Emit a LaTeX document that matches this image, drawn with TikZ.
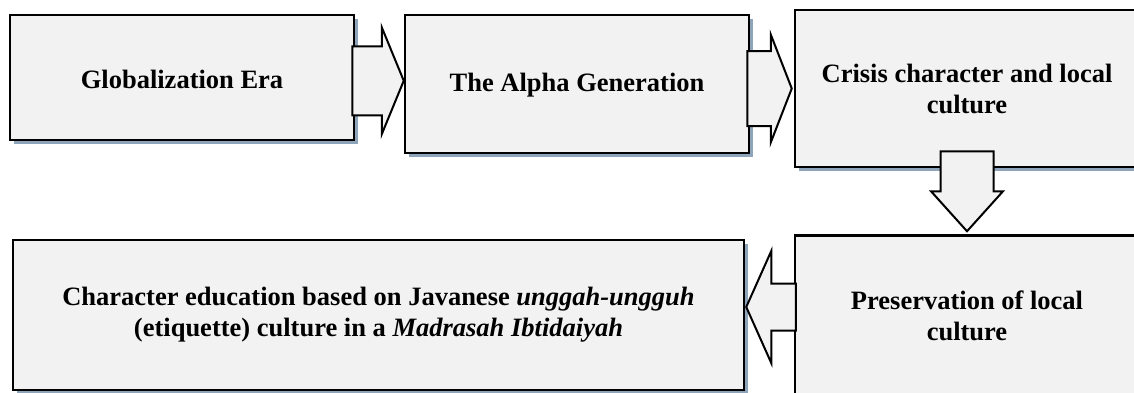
\documentclass[tikz,border=0pt]{standalone}
\usepackage{fontspec}
\setmainfont{Liberation Serif}
\usetikzlibrary{calc,shadows}
\definecolor{boxfill}{HTML}{F2F2F2}
\definecolor{shadowc}{HTML}{8EA4BA}
\begin{document}
\begin{tikzpicture}[x=0.5pt,y=-0.5pt,
  flowbox/.style={draw=black,line width=1.25pt,fill=boxfill,align=center,
    font=\fontsize{13.25}{15.5}\selectfont\bfseries,inner sep=0pt},
  boxtext/.style={align=center,font=\fontsize{13.25}{15.5}\selectfont\bfseries,inner sep=0pt},
  shadowed/.style={drop shadow={shadow xshift=2pt,shadow yshift=-2.2pt,fill=shadowc,opacity=1}},
  blockarr/.style={draw=black,line width=1pt,fill=boxfill,line join=miter}]
\useasboundingbox (0,0) rectangle (1134,392);
% boxes
\node[flowbox,shadowed,minimum width=172pt,minimum height=62.5pt] (b1) at (182,77.5) {};
\node[boxtext] (t1) at ([yshift=-1pt]b1.center) {Globalization Era};
\node[flowbox,shadowed,minimum width=172pt,minimum height=69pt] (b2) at (577,84) {};
\node[boxtext] (t2) at ([yshift=-0.5pt]b2.center) {The Alpha Generation};
\node[flowbox,shadowed,minimum width=180pt,minimum height=78.5pt] (b3) at (975,88.5) {};
\node[boxtext] (t3) at ([xshift=-4pt]b3.center) {Crisis character and local\\culture};
\node[flowbox,minimum width=180pt,minimum height=80pt] (b5) at (975,315.5) {};
\node[boxtext] (t5) at ([xshift=-4pt,yshift=0pt]b5.center) {Preservation of local\\culture};
\node[flowbox,shadowed,minimum width=365.5pt,minimum height=75pt] (b4) at (378.5,315) {};
\node[boxtext] (t4) at (b4.center) {Character education based on Javanese \textit{unggah-ungguh}\\(etiquette) culture in a \textit{Madrasah Ibtidaiyah}};
% arrow b1 -> b2
\coordinate (a1s) at ([xshift=-1.5pt]b1.east);
\coordinate (a1t) at (b2.west |- {$(b1.east)!.5!(b2.west)$});
\draw[blockarr] let \p1=(a1s), \p2=(a1t) in
  (\x1,\y2+17.25pt) -- (\x2-11pt,\y2+17.25pt) -- (\x2-11pt,\y2+26.75pt) -- (\x2,\y2)
  -- (\x2-11pt,\y2-26.75pt) -- (\x2-11pt,\y2-17.25pt) -- (\x1,\y2-17.25pt) -- cycle;
% arrow b2 -> b3
\coordinate (a2s) at ([xshift=-1.5pt]b2.east);
\coordinate (a2t) at ([xshift=-1pt]b3.west);
\draw[blockarr] let \p1=(a2s), \p2=(a2t) in
  (\x1,\y2+18.75pt) -- (\x2-10.5pt,\y2+18.75pt) -- (\x2-10.5pt,\y2+27pt) -- (\x2,\y2)
  -- (\x2-10.5pt,\y2-27pt) -- (\x2-10.5pt,\y2-18.75pt) -- (\x1,\y2-18.75pt) -- cycle;
% arrow b3 -> b5
\coordinate (a3s) at ([yshift=8.5pt]b3.south -| t3.center);
\coordinate (a3t) at ([yshift=1.5pt]b5.north -| t5.center);
\draw[blockarr] let \p1=(a3s), \p2=(a3t) in
  (\x2-13.25pt,\y1) -- (\x2-13.25pt,\y2+20pt) -- (\x2-18pt,\y2+20pt) -- (\x2,\y2)
  -- (\x2+18pt,\y2+20pt) -- (\x2+13.25pt,\y2+20pt) -- (\x2+13.25pt,\y1) -- cycle;
% arrow b5 -> b4
\coordinate (a4s) at ([xshift=1pt,yshift=3.5pt]b5.west);
\coordinate (a4t) at ([xshift=0.5pt,yshift=4pt]b4.east);
\draw[blockarr] let \p1=(a4s), \p2=(a4t) in
  (\x1,\y2+11.75pt) -- (\x2+12.5pt,\y2+11.75pt) -- (\x2+12.5pt,\y2+28pt) -- (\x2,\y2)
  -- (\x2+12.5pt,\y2-28pt) -- (\x2+12.5pt,\y2-11.75pt) -- (\x1,\y2-11.75pt) -- cycle;
\end{tikzpicture}
\end{document}
